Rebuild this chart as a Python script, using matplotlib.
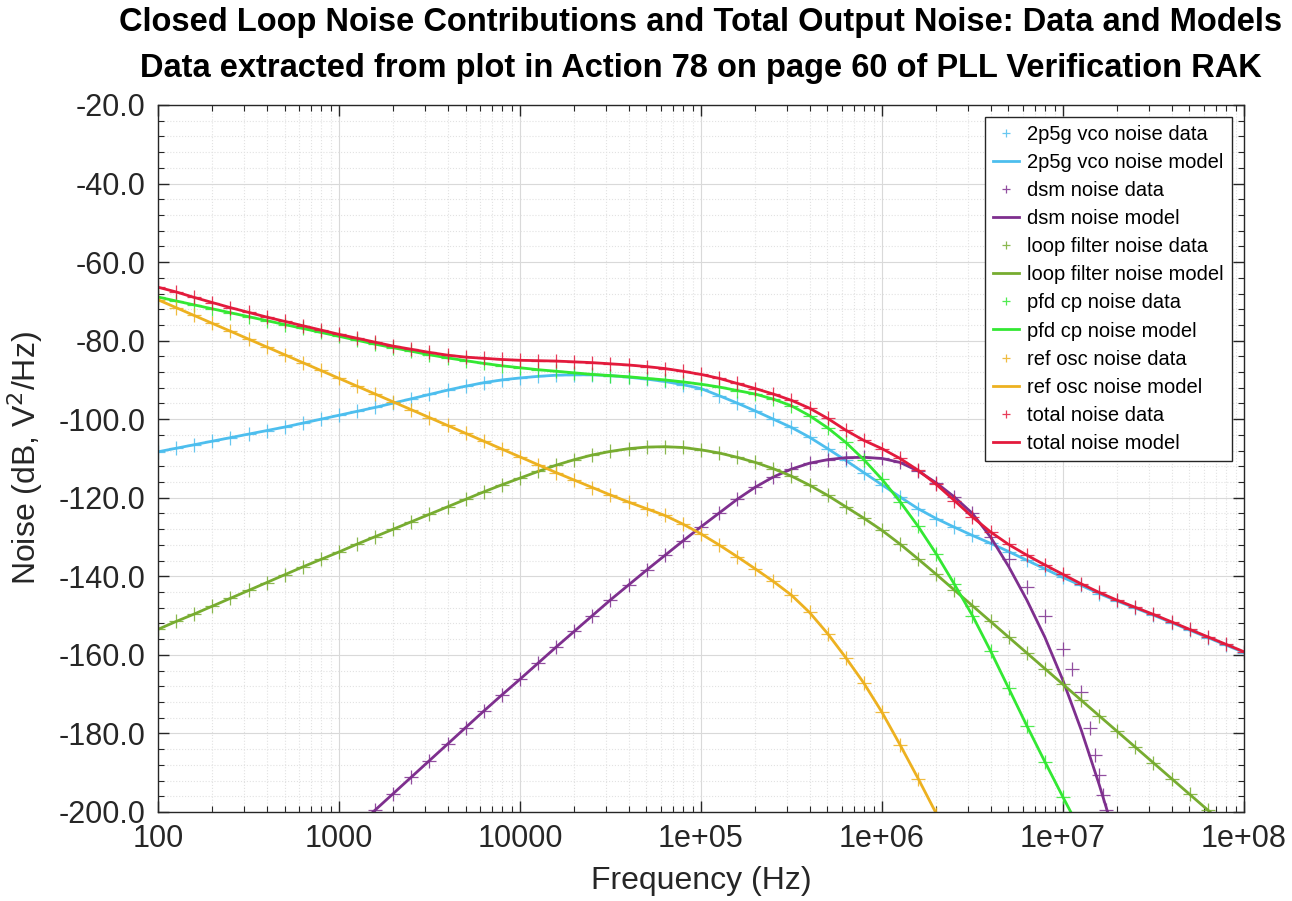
import numpy as np
import matplotlib
matplotlib.use("Agg")
import matplotlib.pyplot as plt
from matplotlib.ticker import AutoMinorLocator, LogLocator, NullFormatter

plt.rcParams['font.family'] = ['Liberation Sans', 'DejaVu Sans']

nan = np.nan

# frequency grid, 10 points per decade from 100 Hz to 100 MHz
freq_hz = np.logspace(2, 8, 61)

vco_db = [
    -108.3, -107.4, -106.5, -105.6, -104.7, -103.8, -102.9, -102.0, -101.0, -100.0,
    -99.0, -98.0, -97.0, -95.9, -94.8, -93.7, -92.6, -91.6, -90.7, -90.0,
    -89.5, -89.1, -88.8, -88.7, -88.7, -88.9, -89.3, -89.8, -90.4, -91.2,
    -92.2, -94.0, -95.9, -97.9, -100.0, -102.1, -104.6, -107.5, -110.5, -113.6,
    -116.7, -119.8, -122.8, -125.3, -127.5, -129.6, -131.6, -133.7, -135.9, -138.1,
    -140.3, -142.3, -144.4, -146.3, -148.1, -149.9, -151.8, -153.7, -155.6, -157.5, -159.4,
]

dsm_model_db = [
    nan, nan, nan, nan, nan, nan, nan, nan, nan, nan,
    nan, -203.7, -199.5, -195.3, -191.1, -186.9, -182.7, -178.5, -174.3, -170.2,
    -166.2, -162.1, -158.0, -154.0, -150.0, -146.0, -142.2, -138.4, -134.7, -131.0,
    -127.4, -123.9, -120.4, -117.3, -114.7, -112.7, -111.2, -110.3, -109.8, -109.7,
    -110.0, -111.0, -113.2, -116.2, -119.8, -124.0, -130.0, -137.5, -146.0, -155.5,
    -166.5, -179.0, -193.0, -208.0, nan, nan, nan, nan, nan, nan, nan,
]

dsm_data_db = [
    nan, nan, nan, nan, nan, nan, nan, nan, nan, nan,
    nan, -203.7, -199.5, -195.3, -191.1, -186.9, -182.7, -178.5, -174.3, -170.2,
    -166.2, -162.1, -158.0, -154.0, -150.0, -146.0, -142.2, -138.4, -134.7, -131.0,
    -127.4, -123.9, -120.4, -117.3, -114.7, -112.7, -111.2, -110.3, -109.8, -109.7,
    -110.0, -111.0, -113.2, -116.2, -119.8, -124.0, -130.0, -135.5, -142.6, -150.0,
    -158.5, nan, nan, nan, nan, nan, nan, nan, nan, nan, nan,
]
# the dsm data points past 10 MHz sit closer together than the grid
dsm_tail_hz = [1.12e7, 1.26e7, 1.41e7, 1.51e7, 1.58e7, 1.66e7, 1.74e7]
dsm_tail_db = [-163.6, -169.5, -178.5, -185.5, -190.5, -195.7, -199.5]

loopfilt_db = [
    -153.5, -151.5, -149.6, -147.6, -145.6, -143.6, -141.6, -139.6, -137.6, -135.7,
    -133.8, -131.8, -129.9, -128.0, -126.1, -124.2, -122.3, -120.4, -118.5, -116.7,
    -115.0, -113.3, -111.7, -110.3, -109.1, -108.2, -107.5, -107.1, -107.0, -107.2,
    -107.8, -108.6, -109.7, -111.0, -112.6, -114.5, -116.8, -119.4, -122.3, -125.2,
    -128.3, -131.8, -135.6, -139.5, -143.5, -147.5, -151.5, -155.5, -159.5, -163.5,
    -167.5, -171.5, -175.5, -179.5, -183.5, -187.5, -191.5, -195.5, -199.5, -203.5, -207.5,
]

pfdcp_db = [
    -68.9, -69.9, -70.9, -71.9, -72.9, -73.9, -74.9, -75.9, -76.9, -77.9,
    -78.9, -79.9, -80.9, -81.8, -82.7, -83.6, -84.4, -85.1, -85.8, -86.4,
    -86.9, -87.4, -87.8, -88.2, -88.6, -88.9, -89.2, -89.6, -90.0, -90.5,
    -91.1, -91.8, -92.7, -93.6, -94.9, -96.6, -99.1, -102.2, -105.9, -110.3,
    -115.3, -121.0, -127.3, -134.3, -142.0, -150.0, -159.0, -168.5, -178.0, -187.2,
    -196.2, -205.0, nan, nan, nan, nan, nan, nan, nan, nan, nan,
]

refosc_db = [
    -69.6, -71.6, -73.6, -75.6, -77.6, -79.6, -81.6, -83.6, -85.6, -87.6,
    -89.6, -91.6, -93.6, -95.6, -97.6, -99.6, -101.6, -103.6, -105.6, -107.6,
    -109.6, -111.6, -113.6, -115.5, -117.4, -119.3, -121.1, -122.8, -124.5, -126.7,
    -129.2, -132.0, -135.0, -138.1, -141.3, -144.8, -149.2, -154.6, -160.7, -167.2,
    -174.6, -182.9, -191.5, -200.4, -209.5, nan, nan, nan, nan, nan,
    nan, nan, nan, nan, nan, nan, nan, nan, nan, nan, nan,
]

total_db = [
    -66.4, -67.6, -69.0, -70.3, -71.6, -72.8, -74.0, -75.1, -76.2, -77.3,
    -78.4, -79.4, -80.4, -81.4, -82.2, -83.0, -83.7, -84.2, -84.5, -84.8,
    -85.0, -85.1, -85.2, -85.4, -85.6, -85.9, -86.2, -86.6, -87.1, -87.8,
    -88.6, -89.6, -90.9, -92.2, -93.6, -95.2, -97.2, -99.8, -102.8, -105.4,
    -107.5, -110.0, -113.0, -116.6, -120.7, -124.9, -128.7, -131.9, -134.6, -137.1,
    -139.5, -141.9, -144.1, -146.1, -147.9, -149.7, -151.6, -153.5, -155.4, -157.3, -159.2,
]

xtick_vals = [1e2, 1e3, 1e4, 1e5, 1e6, 1e7, 1e8]
xtick_labels = ["100", "1000", "10000", "1e+05", "1e+06", "1e+07", "1e+08"]
ytick_vals = [-20, -40, -60, -80, -100, -120, -140, -160, -180, -200]

C_VCO = '#4DBEEE'
C_DSM = '#7E2F8E'
C_LF = '#77AC30'
C_PFD = '#33E833'
C_REF = '#EDB120'
C_TOT = '#E31A3C'
AX_COL = '#262626'

fig = plt.figure(figsize=(12.92, 9.01), dpi=100)
ax = fig.add_axes([0.1223, 0.0988, 0.8405, 0.7847])

mk = dict(marker='+', linestyle='none', markersize=10, markeredgewidth=0.9, alpha=0.85)
lw = 2.0

ax.plot(freq_hz, vco_db, color=C_VCO, label='2p5g vco noise data', **mk)
ax.plot(freq_hz, vco_db, color=C_VCO, lw=lw, label='2p5g vco noise model')
ax.plot(np.concatenate([freq_hz, dsm_tail_hz]), dsm_data_db + dsm_tail_db,
        color=C_DSM, label='dsm noise data', **mk)
ax.plot(freq_hz, dsm_model_db, color=C_DSM, lw=lw, label='dsm noise model')
ax.plot(freq_hz, loopfilt_db, color=C_LF, label='loop filter noise data', **mk)
ax.plot(freq_hz, loopfilt_db, color=C_LF, lw=lw, label='loop filter noise model')
ax.plot(freq_hz, pfdcp_db, color=C_PFD, label='pfd cp noise data', **mk)
ax.plot(freq_hz, pfdcp_db, color=C_PFD, lw=lw, label='pfd cp noise model')
ax.plot(freq_hz, refosc_db, color=C_REF, label='ref osc noise data', **mk)
ax.plot(freq_hz, refosc_db, color=C_REF, lw=lw, label='ref osc noise model')
ax.plot(freq_hz, total_db, color=C_TOT, label='total noise data', **mk)
ax.plot(freq_hz, total_db, color=C_TOT, lw=lw, label='total noise model')

ax.set_xscale('log')
ax.set_xlim(1e2, 1e8)
ax.set_ylim(-200, -20)
ax.set_xticks(xtick_vals)
ax.set_xticklabels(xtick_labels)
ax.xaxis.set_minor_locator(LogLocator(base=10, subs=np.arange(2, 10), numticks=20))
ax.xaxis.set_minor_formatter(NullFormatter())
ax.set_yticks(ytick_vals)
ax.set_yticklabels([f'{v:.1f}' for v in ytick_vals])
ax.yaxis.set_minor_locator(AutoMinorLocator(5))

ax.grid(which='major', color='#d9d9d9', linestyle='-', linewidth=0.8)
ax.grid(which='minor', color='#e2e2e2', linestyle=':', linewidth=0.8)
ax.set_axisbelow(True)

ax.tick_params(which='both', direction='in', top=True, right=True,
               colors=AX_COL, labelsize=22, pad=9)
ax.tick_params(which='major', length=8, width=1)
ax.tick_params(which='minor', length=4, width=0.8)
for s in ax.spines.values():
    s.set_color(AX_COL)
    s.set_linewidth(1.0)

ax.set_xlabel('Frequency (Hz)', fontsize=23, color=AX_COL, labelpad=8)
ax.set_ylabel('Noise (dB, V$^2$/Hz)', fontsize=23, color=AX_COL, labelpad=10)

fig.text(0.5426, 1 - 22 / 901, 'Closed Loop Noise Contributions and Total Output Noise: Data and Models',
         ha='center', va='center', fontsize=23.5, fontweight='bold', color='black')
fig.text(0.5426, 1 - 68 / 901, 'Data extracted from plot in Action 78 on page 60 of PLL Verification RAK',
         ha='center', va='center', fontsize=23.5, fontweight='bold', color='black')

leg = ax.legend(loc='upper right', fontsize=14.5, frameon=True, fancybox=False,
                edgecolor=AX_COL, framealpha=1, borderpad=0.4, labelspacing=0.45,
                handlelength=1.3, handletextpad=0.4, borderaxespad=0.6, markerscale=0.6)
leg.get_frame().set_linewidth(1.0)

fig.savefig('out.png', dpi=100)
